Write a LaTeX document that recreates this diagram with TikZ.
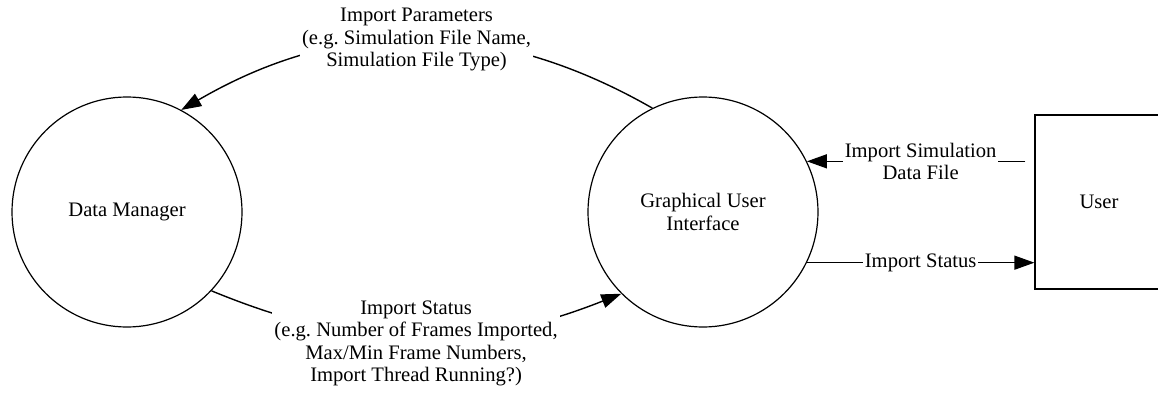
\documentclass[tikz,border=0pt]{standalone}
\usepackage{fontspec}
\setmainfont{Liberation Serif}
\usetikzlibrary{arrows.meta, positioning}

\begin{document}
\begin{tikzpicture}[x=0.5pt, y=0.5pt,
  every node/.style={font=\fontsize{10.3}{11.3}\selectfont},
  procstyle/.style={circle,draw,line width=0.6pt,minimum size=115pt,align=center},
  userstyle/.style={rectangle,draw,line width=0.6pt,minimum width=64pt,minimum height=87pt},
  flowlbl/.style={fill=white,inner sep=1pt,align=center},
  flow/.style={line width=0.7pt,-{Triangle[length=10pt,width=7pt]}}]
  \clip (0,0) rectangle (1158,392);
  \node [procstyle] (dm)   at (127,180)  {Data Manager};
  \node [procstyle] (gui)  at (703,180)  {Graphical User\\Interface};
  \node [userstyle] (user) at (1099,190) {User};
  % flows between the processes
  \draw [flow] (gui.116.6) to[bend right=30]
    node [flowlbl] {Import Parameters\\(e.g.\ Simulation File Name,\\Simulation File Type)} (dm.62.5);
  \draw [flow] (dm.-43.6) to[bend right=22]
    node [flowlbl, yshift=-3pt] {Import Status\\(e.g.\ Number of Frames Imported,\\Max/Min Frame Numbers,\\Import Thread Running?)} (gui.-135);
  % flows to and from the user
  \draw [flow, shorten <=4.5pt] (user.west |- gui.26) --
    node [flowlbl, anchor=north, yshift=10.5pt] {Import Simulation\\Data File} (gui.26);
  \draw [flow] (gui.-26) -- node [flowlbl] {Import Status} (user.west |- gui.-26);
\end{tikzpicture}
\end{document}
